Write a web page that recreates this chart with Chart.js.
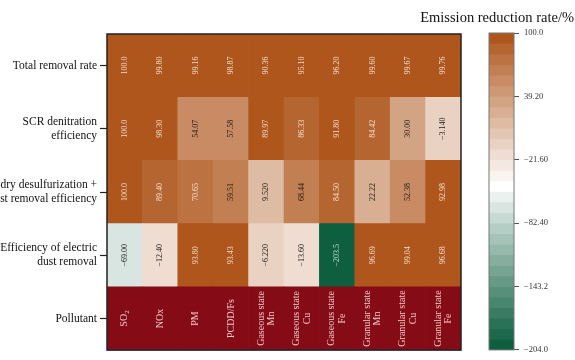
<!DOCTYPE html>
<html>
<head>
<meta charset="utf-8">
<script src="https://cdn.jsdelivr.net/npm/chart.js@4.4.0/dist/chart.umd.min.js"></script>
<style>
    body { margin: 0; background: #fff; }
    #wrap { position: relative; width: 575px; height: 360px; overflow: hidden; }
    #main { position: absolute; left: 0; top: 0; }
    #bar { position: absolute; left: 470px; top: 0; }
    #cbTitle {
        position: absolute; top: 9px; right: 1px;
        white-space: nowrap; font: 14.5px "Liberation Serif", serif; color: #111;
    }
</style>
</head>
<body>
<div id="wrap">
    <canvas id="main" width="575" height="360"></canvas>
    <canvas id="bar" width="105" height="360"></canvas>
    <div id="cbTitle">Emission reduction rate/%</div>
</div>
<script>
// columns (pollutants)
const pollutants = ['SO₂', 'NOx', 'PM', 'PCDD/Fs', 'Gaseous state\nMn', 'Gaseous state\nCu',
    'Gaseous state\nFe', 'Granular state\nMn', 'Granular state\nCu', 'Granular state\nFe'];

// rows, top to bottom
const rowLabels = [
    ['Total removal rate'],
    ['SCR denitration', 'efficiency'],
    ['Semi-dry desulfurization +', 'dust removal efficiency'],
    ['Efficiency of electric', 'dust removal'],
    ['Pollutant']
];

const totalRemoval = [100.0, 99.80, 99.16, 98.87, 90.36, 95.10, 96.20, 99.60, 99.67, 99.76];
const scrDenitration = [100.0, 98.30, 54.07, 57.58, 89.97, 86.33, 91.80, 84.42, 30.00, -3.140];
const semiDryDust = [100.0, 89.40, 70.65, 59.51, 9.520, 68.44, 84.50, 22.22, 52.38, 92.98];
const electricDust = [-69.00, -12.40, 93.80, 93.43, -6.220, -13.60, -203.5, 96.69, 99.04, 96.68];

// colorbar
const cbMax = 100.0;
const cbMin = -204.0;
const cbTicks = [100.0, 39.20, -21.60, -82.40, -143.2, -204.0];
const nBands = 30;

const serif = '"Liberation Serif", serif';
const brown = [174, 86, 27];
const green = [13, 95, 64];
const pollutantColor = '#850b16';
const step = (cbMax - cbMin) / nBands;

function bandRgb(k) {
    // 14 brown bands, one white, 15 green
    let c, t;
    if (k < 14) {
        t = Math.pow(k / 14, 0.92);
        c = brown.map(b => b + (255 - b) * t);
    } else if (k === 14) {
        c = [255, 255, 255];
    } else {
        t = Math.pow((k - 14) / 15, 0.9);
        c = green.map(g => 255 + (g - 255) * t);
    }
    return c.map(Math.round);
}

function bandIndex(v) {
    let k = Math.floor((cbMax - v) / step);
    return Math.max(0, Math.min(nBands - 1, k));
}

const rgbStr = c => `rgb(${c[0]},${c[1]},${c[2]})`;
const fmt = v => v.toPrecision(4).replace('-', '\u2212');

// datasets go bottom to top when stacked
const valueRows = [totalRemoval, scrDenitration, semiDryDust, electricDust];
const datasets = [{
    label: 'Pollutant',
    data: pollutants.map(() => 1),
    backgroundColor: pollutantColor,
    names: pollutants
}];
valueRows.slice().reverse().forEach(values => {
    datasets.push({
        data: values.map(() => 1),
        backgroundColor: values.map(v => rgbStr(bandRgb(bandIndex(v)))),
        values: values
    });
});
datasets.forEach(ds => {
    ds.barPercentage = 1;
    ds.categoryPercentage = 1;
    ds.borderWidth = 0;
});

// cell annotations, rotated
const cellText = {
    id: 'cellText',
    afterDatasetsDraw(chart) {
        const ctx = chart.ctx;
        chart.data.datasets.forEach((ds, i) => {
            const meta = chart.getDatasetMeta(i);
            meta.data.forEach((bar, j) => {
                const p = bar.getCenterPoint();
                ctx.save();
                ctx.translate(p.x, p.y);
                ctx.rotate(-Math.PI / 2);
                ctx.textBaseline = 'middle';
                if (ds.values) {
                    const v = ds.values[j];
                    const c = bandRgb(bandIndex(v));
                    const lum = 0.299 * c[0] + 0.587 * c[1] + 0.114 * c[2];
                    ctx.fillStyle = lum < 132 ? rgbStr(c.map(x => Math.round(x * 0.2 + 255 * 0.8))) : '#1a1a1a';
                    ctx.font = '8px ' + serif;
                    ctx.textAlign = 'center';
                    ctx.fillText(fmt(v), 0, 0);
                } else {
                    ctx.fillStyle = '#edc9c9';
                    const lines = ds.names[j].split('\n');
                    const lh = 10.5;
                    lines.forEach((line, n) => {
                        const ly = (n - (lines.length - 1) / 2) * lh;
                        if (line.includes('₂')) {
                            const base = line.replace('₂', '');
                            ctx.font = '10px ' + serif;
                            const w1 = ctx.measureText(base).width;
                            ctx.font = '7px ' + serif;
                            const w2 = ctx.measureText('2').width;
                            ctx.textAlign = 'left';
                            ctx.font = '10px ' + serif;
                            ctx.fillText(base, -(w1 + w2) / 2, ly);
                            ctx.font = '7px ' + serif;
                            ctx.fillText('2', -(w1 + w2) / 2 + w1, ly + 2.5);
                        } else {
                            ctx.font = '10px ' + serif;
                            ctx.textAlign = 'center';
                            ctx.fillText(line, 0, ly);
                        }
                    });
                }
                ctx.restore();
            });
        });
    }
};

const frame = color => ({
    id: 'frame',
    afterDraw(chart) {
        const a = chart.chartArea;
        const ctx = chart.ctx;
        ctx.save();
        ctx.strokeStyle = color;
        ctx.lineWidth = color === '#222' ? 1.5 : 1;
        ctx.strokeRect(a.left, a.top, a.right - a.left, a.bottom - a.top);
        ctx.restore();
    }
});

new Chart(document.getElementById('main'), {
    type: 'bar',
    data: { labels: pollutants, datasets: datasets },
    options: {
        responsive: false,
        animation: false,
        layout: { padding: { top: 34, right: 114, bottom: 2, left: 0 } },
        plugins: { legend: { display: false }, tooltip: { enabled: false } },
        scales: {
            x: { stacked: true, display: false },
            y: {
                stacked: true,
                min: 0,
                max: 5,
                afterBuildTicks: scale => {
                    scale.ticks = [0.5, 1.5, 2.5, 3.5, 4.5].map(v => ({ value: v }));
                },
                afterFit: scale => { scale.width = 107; },
                ticks: {
                    callback: v => rowLabels[4 - Math.floor(v)],
                    font: { family: serif, size: 11.5, lineHeight: 1.2 },
                    color: '#111',
                    padding: 3
                },
                grid: { drawOnChartArea: false, tickLength: 7, color: '#222', tickWidth: 1.2 },
                border: { display: false }
            }
        }
    },
    plugins: [cellText, frame('#222')]
});

// colorbar as floating bars on the value scale
const bandSets = [];
for (let k = 0; k < nBands; k++) {
    const hi = cbMax - k * step;
    bandSets.push({
        data: [[hi - step, hi]],
        backgroundColor: rgbStr(bandRgb(k)),
        barPercentage: 1,
        categoryPercentage: 1,
        borderWidth: 0
    });
}

new Chart(document.getElementById('bar'), {
    type: 'bar',
    data: { labels: [''], datasets: bandSets },
    options: {
        responsive: false,
        animation: false,
        layout: { padding: { top: 33, right: 0, bottom: 2, left: 19 } },
        plugins: { legend: { display: false }, tooltip: { enabled: false } },
        scales: {
            x: { stacked: true, display: false },
            y: {
                position: 'right',
                min: cbMin,
                max: cbMax,
                afterBuildTicks: scale => {
                    scale.ticks = cbTicks.map(v => ({ value: v }));
                },
                afterFit: scale => { scale.width = 61; },
                ticks: {
                    callback: v => fmt(v),
                    font: { family: serif, size: 8.5 },
                    color: '#333',
                    padding: 5
                },
                grid: { drawOnChartArea: false, tickLength: 5, color: '#555' },
                border: { display: false }
            }
        }
    },
    plugins: [frame('#777')]
});
</script>
</body>
</html>
